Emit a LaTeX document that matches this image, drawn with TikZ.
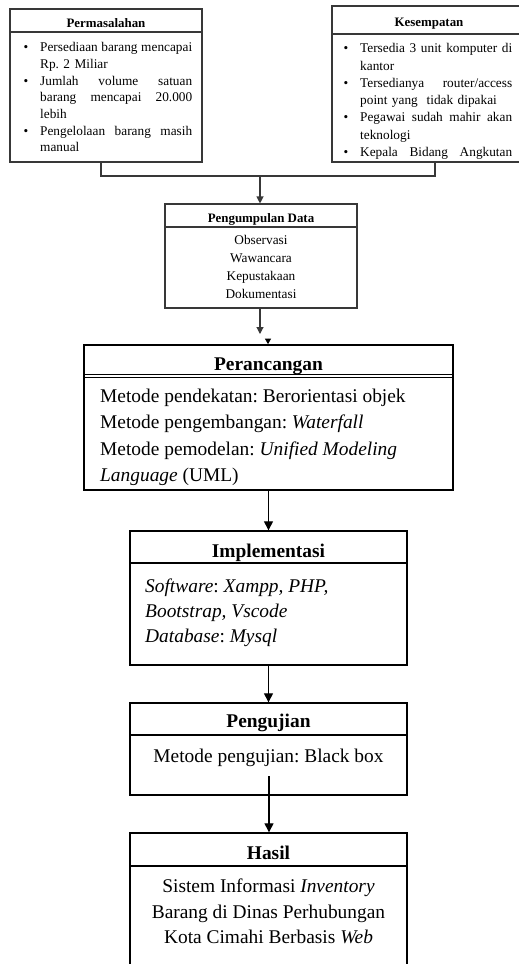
\documentclass[tikz,border=0pt]{standalone}
\usepackage{fontspec}
\setmainfont{Liberation Serif}
\usetikzlibrary{arrows.meta}
\frenchspacing

% font sizes used in the flow chart
\newcommand{\fsTop}{\fontsize{13.3}{16.7}\selectfont}
\newcommand{\fsTopK}{\fontsize{13.3}{17.3}\selectfont}
\newcommand{\fsData}{\fontsize{13.3}{18}\selectfont}
\newcommand{\fsMain}{\fontsize{19.4}{26.5}\selectfont}
\newcommand{\fsMainB}{\fontsize{19.4}{25.2}\selectfont}
\newcommand{\bul}{\leavevmode\llap{\textbullet\hspace{12pt}}}
% a justified line: its word spaces stretch to the full column width
\newcommand{\jline}[1]{\hbox to 152pt{\spaceskip=\fontdimen2\font plus 1fil\relax #1}}

\tikzset{
  topbox/.style={draw=black!78, line width=1.1pt, rectangle, inner sep=0pt},
  mainbox/.style={draw=black, line width=1.4pt, rectangle, inner sep=0pt},
  topline/.style={draw=black!78, line width=1.1pt},
  mainline/.style={draw=black, line width=1.3pt},
  toptitle/.style={anchor=base, inner sep=0pt, font=\fontsize{12.9}{15}\selectfont\bfseries},
  maintitle/.style={anchor=base, inner sep=0pt, font=\fontsize{19.4}{24}\selectfont\bfseries},
  arrtop/.style={topline, -{Triangle[length=7pt,width=7pt]}},
  arrmain/.style={mainline, -{Triangle[length=9pt,width=9pt]}},
  arrtiny/.style={line width=0.8pt, -{Triangle[length=5.5pt,width=6pt]}},
}

\begin{document}
\begin{tikzpicture}[x=1pt,y=-1pt]
\clip (0,0) rectangle (519,964);
\fill[white] (0,0) rectangle (519,964);

% ---------- Permasalahan ----------
\node[topbox, minimum width=192pt, minimum height=153pt] (perm) at (106,85.5) {};
\draw[topline] (perm.west |- 0,32) -- (perm.east |- 0,32);
\node[toptitle] (permT) at (106,27) {Permasalahan};
\node[anchor=north west, inner sep=0pt, text width=152pt, align=left, font=\fsTop] (permB) at (40,39.8) {%
\bul\strut\jline{Persediaan barang mencapai}\\
Rp. 2 Miliar\\
\bul\jline{Jumlah volume satuan}\\
\leavevmode\jline{barang mencapai 20.000}\\
lebih\\
\bul\jline{Pengelolaan barang masih}\\
manual};

% ---------- Kesempatan ----------
\node[topbox, minimum width=194pt, minimum height=156pt] (kes) at (429,84) {};
\draw[topline] (kes.west |- 0,34) -- (kes.east |- 0,34);
\node[toptitle] (kesT) at (429,26) {Kesempatan};
\node[anchor=north west, inner sep=0pt, text width=152pt, align=left, font=\fsTopK] (kesB) at (360,40.4) {%
\bul\strut\jline{Tersedia 3 unit komputer di}\\
kantor\\
\bul\jline{Tersedianya router/access}\\
point yang\ \ tidak dipakai\\
\bul\jline{Pegawai sudah mahir akan}\\
teknologi\\
\bul\jline{Kepala Bidang Angkutan}};

% ---------- joining line ----------
\coordinate (jl) at (101,176);
\coordinate (jr) at (435,176);
\coordinate (join) at (260,176);
\draw[topline] (perm.south -| jl) -- (jl) -- (jr) -- (kes.south -| jr);

% ---------- Pengumpulan Data ----------
\node[topbox, minimum width=192pt, minimum height=104pt] (pd) at (261,256) {};
\draw[topline] (pd.west |- 0,227) -- (pd.east |- 0,227);
\node[toptitle] (pdT) at (261,222) {Pengumpulan Data};
\node[anchor=north, inner sep=0pt, align=center, font=\fsData] (pdB) at (261,231.9) {%
\strut Observasi\\ Wawancara\\ Kepustakaan\\ Dokumentasi};
\draw[arrtop] (join) -- (join |- pd.north);

\coordinate (pdend) at (260,334);
\draw[arrtop] (pd.south -| pdend) -- (pdend);

% ---------- Perancangan ----------
\node[mainbox, line width=1.7pt, minimum width=369pt, minimum height=145pt] (per) at (268.5,417.5) {};
\draw[mainline] (per.west |- 0,374.3) -- (per.east |- 0,374.3);
\draw[mainline] (per.west |- 0,377.7) -- (per.east |- 0,377.7);
\node[maintitle] (perT) at (268.5,370) {Perancangan};
\node[anchor=north west, inner sep=0pt, align=left, font=\fsMain] (perB) at (100,383.3) {%
\strut Metode pendekatan: Berorientasi objek\\
Metode pengembangan: \textit{Waterfall}\\
Metode pemodelan: \textit{Unified Modeling}\\
\textit{Language} (UML)};
\coordinate (tipA) at (268,338.5);
\draw[arrtiny] (tipA) -- (tipA |- per.north);

% ---------- Implementasi ----------
\node[mainbox, minimum width=277pt, minimum height=134pt] (impl) at (268.5,598) {};
\draw[mainline] (impl.west |- 0,563) -- (impl.east |- 0,563);
\node[maintitle] (implT) at (268.5,557) {Implementasi};
\node[anchor=north west, inner sep=0pt, align=left, font=\fsMainB] (implB) at (145,574.2) {%
\strut\textit{Software}: \textit{Xampp, PHP,}\\
\textit{Bootstrap, Vscode}\\
\textit{Database}: \textit{Mysql}};
\draw[arrmain] (per.south) -- (impl.north);

% ---------- Pengujian ----------
\node[mainbox, minimum width=277pt, minimum height=92pt] (uji) at (268.5,749) {};
\draw[mainline] (uji.west |- 0,735) -- (uji.east |- 0,735);
\node[maintitle] (ujiT) at (268.5,727) {Pengujian};
\node[anchor=base, inner sep=0pt, font=\fsMain] (ujiB) at (268.5,762.8) {Metode pengujian: Black box};
\draw[arrmain] (impl.south) -- (uji.north);

% ---------- Hasil ----------
\node[mainbox, minimum width=277pt, minimum height=147pt] (hasil) at (268.5,906.5) {};
\draw[mainline] (hasil.west |- 0,866) -- (hasil.east |- 0,866);
\node[maintitle] (hasilT) at (268.5,859) {Hasil};
\node[anchor=north, inner sep=0pt, align=center, font=\fontsize{19.4}{25.5}\selectfont] (hasilB) at (268.5,874.9) {%
\strut Sistem Informasi \textit{Inventory}\\
Barang di Dinas Perhubungan\\
Kota Cimahi Berbasis \textit{Web}};
\coordinate (ujiend) at (269,776);
\draw[arrmain] (ujiend) -- (ujiend |- hasil.north);
\end{tikzpicture}
\end{document}
